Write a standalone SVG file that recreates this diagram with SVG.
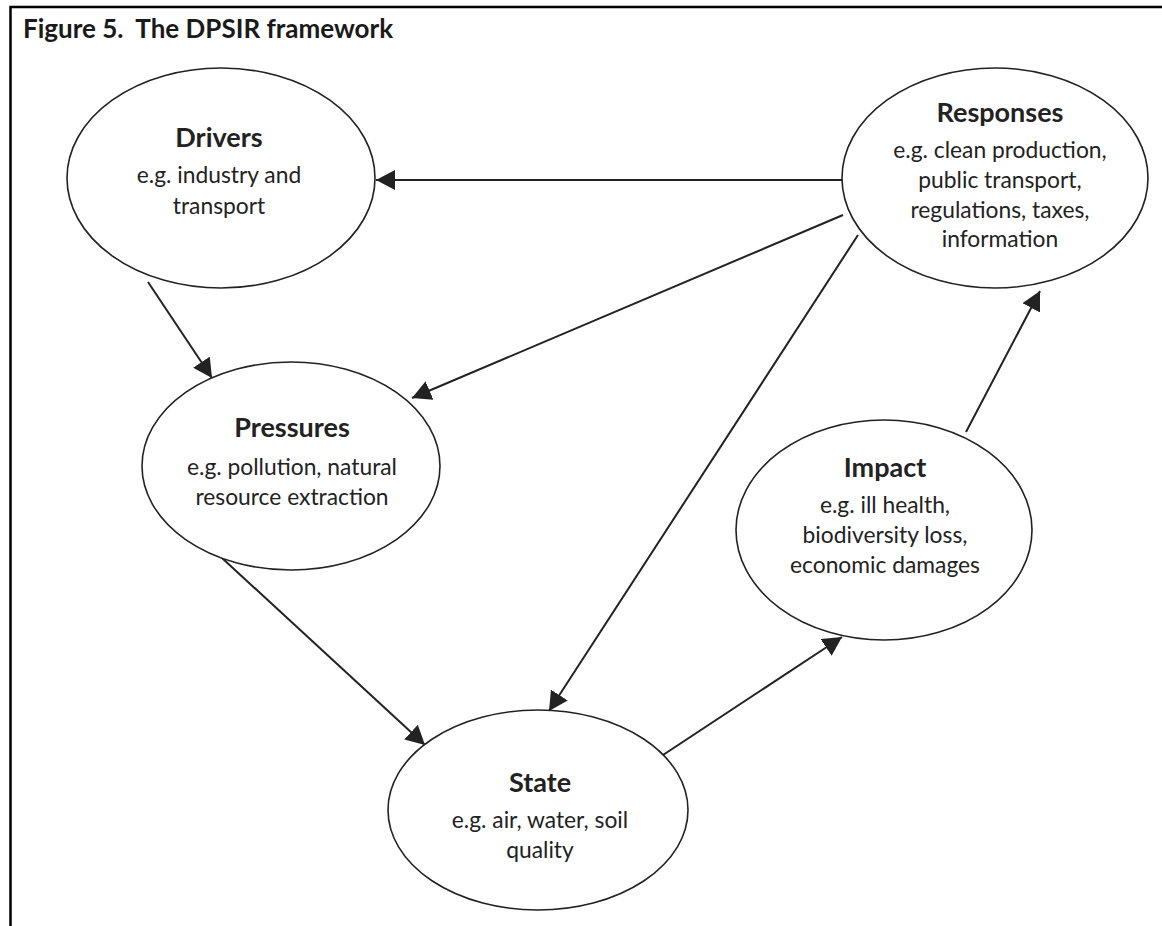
<svg xmlns="http://www.w3.org/2000/svg" width="1162" height="926" viewBox="0 0 1162 926">
  <style>
    .frame { stroke: #000; stroke-width: 2.5; fill: none; }
    .node ellipse { fill: #fff; stroke: #222; stroke-width: 1.6; }
    .title { font-family: Lato, "Open Sans", sans-serif; font-weight: bold; font-size: 26px; fill: #1a1a1a; }
    .head { font-family: Lato, "Open Sans", sans-serif; font-weight: bold; font-size: 27px; fill: #222; text-anchor: middle; }
    .body { font-family: Lato, "Open Sans", sans-serif; font-size: 22.8px; fill: #222; text-anchor: middle; }
    .edge { stroke: #222; stroke-width: 2; fill: none; marker-end: url(#arrow); }
  </style>
  <defs>
    <marker id="arrow" markerUnits="userSpaceOnUse" markerWidth="20" markerHeight="20" refX="19" refY="10" orient="auto">
      <path d="M0,0 L19,10 L0,20 Z" fill="#222"/>
    </marker>
  </defs>

  <rect width="1162" height="926" fill="#fff"/>

  <!-- figure frame: top rule and left rule -->
  <path class="frame" d="M10.5,926 V7 H1162"/>
  <text class="title" x="23" y="38" xml:space="preserve">Figure 5.  The DPSIR framework</text>

  <g id="connectors">
    <line class="edge" x1="842" y1="180" x2="376" y2="180"/>
    <line class="edge" x1="148" y1="282" x2="212" y2="378"/>
    <line class="edge" x1="843" y1="215" x2="412" y2="398"/>
    <line class="edge" x1="858" y1="235" x2="549" y2="711"/>
    <line class="edge" x1="222" y1="558" x2="425" y2="745"/>
    <line class="edge" x1="663" y1="755" x2="842" y2="637"/>
    <line class="edge" x1="966" y1="432" x2="1040" y2="291"/>
  </g>

  <g id="drivers" class="node">
    <ellipse cx="221" cy="178" rx="154" ry="110"/>
    <text class="head" x="219" y="147">Drivers</text>
    <text class="body" x="219" y="183">e.g. industry and</text>
    <text class="body" x="219" y="214">transport</text>
  </g>

  <g id="responses" class="node">
    <ellipse cx="995" cy="178" rx="153" ry="110"/>
    <text class="head" x="1000" y="122">Responses</text>
    <text class="body" x="1000" y="158">e.g. clean production,</text>
    <text class="body" x="1000" y="188">public transport,</text>
    <text class="body" x="1000" y="218">regulations, taxes,</text>
    <text class="body" x="1000" y="247">information</text>
  </g>

  <g id="pressures" class="node">
    <ellipse cx="291" cy="466" rx="149" ry="104"/>
    <text class="head" x="292" y="437">Pressures</text>
    <text class="body" x="292" y="475">e.g. pollution, natural</text>
    <text class="body" x="292" y="505">resource extraction</text>
  </g>

  <g id="impact" class="node">
    <ellipse cx="884" cy="530" rx="148" ry="110"/>
    <text class="head" x="885" y="477">Impact</text>
    <text class="body" x="885" y="513">e.g. ill health,</text>
    <text class="body" x="885" y="543">biodiversity loss,</text>
    <text class="body" x="885" y="573">economic damages</text>
  </g>

  <g id="state" class="node">
    <ellipse cx="538" cy="810" rx="150" ry="100"/>
    <text class="head" x="540" y="792">State</text>
    <text class="body" x="540" y="828">e.g. air, water, soil</text>
    <text class="body" x="540" y="858">quality</text>
  </g>
</svg>
